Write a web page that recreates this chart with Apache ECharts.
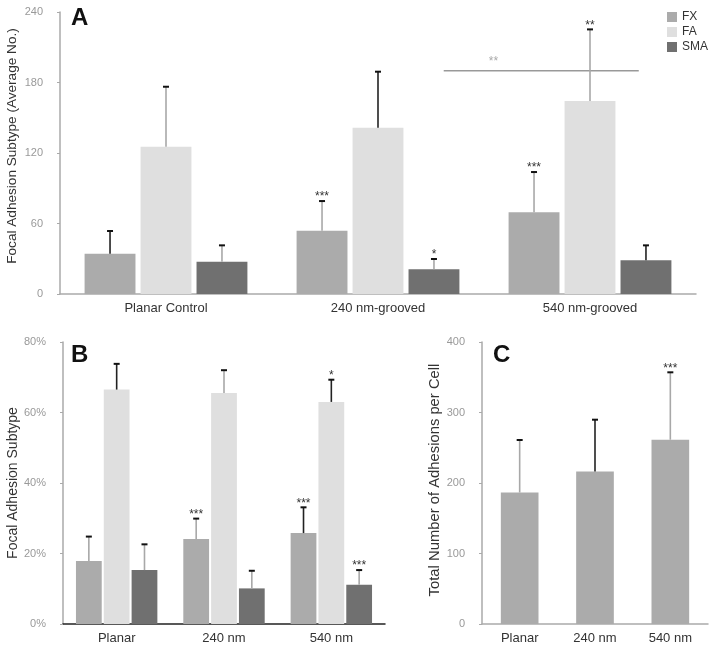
<!DOCTYPE html>
<html><head><meta charset="utf-8">
<script src="https://cdn.jsdelivr.net/npm/echarts@6/dist/echarts.min.js"></script>
<style>html,body{margin:0;padding:0;background:#fff}#c{width:714px;height:646px}</style>
</head><body><div id="c"></div>
<script>
// ---- Data ----
const seriesNames = ['FX', 'FA', 'SMA'];
// Panel A: average number
const catsA = ['Planar Control', '240 nm-grooved', '540 nm-grooved'];
const fxA = [34.3, 53.9, 69.5];
const fxA_sd = [19.3, 25.2, 34.3];
const faA = [125.4, 141.5, 164.3];
const faA_sd = [51.0, 47.7, 60.9];
const smaA = [27.5, 21.0, 28.7];
const smaA_sd = [13.9, 8.8, 12.7];
const fxA_star = ['', '***', '***'];
const faA_star = ['', '', '**'];
const smaA_star = ['', '*', ''];
const bracketA = 190;      // value of comparison line
const bracketA_star = '**';
const ticksA = [0, 60, 120, 180, 240];
const nameA = 'Focal Adhesion Subtype (Average No.)';
// Panel B: percentage
const catsB = ['Planar', '240 nm', '540 nm'];
const fxB = [17.9, 24.1, 25.8];
const fxB_sd = [6.9, 5.8, 7.3];
const faB = [66.5, 65.5, 63.0];
const faB_sd = [7.3, 6.5, 6.3];
const smaB = [15.3, 10.1, 11.1];
const smaB_sd = [7.3, 5.0, 4.2];
const fxB_star = ['', '***', '***'];
const faB_star = ['', '', '*'];
const smaB_star = ['', '', '***'];
const ticksB = [0, 20, 40, 60, 80];
// Panel C: total adhesions
const catsC = ['Planar', '240 nm', '540 nm'];
const totC = [186.5, 216.3, 261.4];
const totC_sd = [74.5, 73.5, 95.6];
const totC_star = ['', '', '***'];
const ticksC = [0, 100, 200, 300, 400];

// ---- Style ----
const COL = {FX: '#ababab', FA: '#dfdfdf', SMA: '#707070'};
const STEM_DARK = '#222', STEM_LIGHT = '#a8a8a8';
const FONT = '"Liberation Sans", Arial, Helvetica, sans-serif';
const stemA = {FX: [STEM_DARK, STEM_LIGHT, STEM_LIGHT], FA: [STEM_LIGHT, STEM_DARK, STEM_LIGHT], SMA: [STEM_LIGHT, STEM_LIGHT, STEM_DARK]};
const stemB = {FX: [STEM_LIGHT, STEM_LIGHT, STEM_DARK], FA: [STEM_DARK, STEM_LIGHT, STEM_DARK], SMA: [STEM_LIGHT, STEM_LIGHT, STEM_LIGHT]};
const stemC = [STEM_LIGHT, STEM_DARK, STEM_LIGHT];

function errSeries(gridIdx, vals, sds, stars, stems, slot, nSlots, barFrac, gapFrac) {
  return {
    type: 'custom', xAxisIndex: gridIdx, yAxisIndex: gridIdx, z: 5, silent: true,
    data: vals.map((v, i) => [i, v, v + sds[i]]),
    renderItem: function (params, api) {
      const i = params.dataIndex;
      const c = api.coord([api.value(0), api.value(1)]);
      const t = api.coord([api.value(0), api.value(2)]);
      const band = api.size([1, 0])[0];
      const w = band * barFrac;
      const x = c[0] + (slot - (nSlots - 1) / 2) * w * (1 + gapFrac);
      const children = [
        {type: 'line', shape: {x1: x, y1: c[1], x2: x, y2: t[1]}, style: {stroke: stems[i], lineWidth: 1.6}},
        {type: 'line', shape: {x1: x - 3, y1: t[1], x2: x + 3, y2: t[1]}, style: {stroke: '#111', lineWidth: 2}}
      ];
      if (stars[i]) children.push({type: 'text', style: {text: stars[i], x: x, y: t[1] + 2, align: 'center', verticalAlign: 'bottom', fontSize: 12, fontFamily: FONT, fill: '#333'}});
      return {type: 'group', children: children};
    }
  };
}
function barSeries(name, gridIdx, vals, barWidth, gap) {
  return {name: name, type: 'bar', xAxisIndex: gridIdx, yAxisIndex: gridIdx, data: vals, barWidth: barWidth, barGap: gap,
    itemStyle: {color: COL[name]}, emphasis: {disabled: true}, animation: false};
}
function xAxis(gridIdx, cats, lineCol, margin) {
  return {type: 'category', gridIndex: gridIdx, data: cats,
    axisLine: {show: true, lineStyle: {color: lineCol, width: 1.5}}, axisTick: {show: false},
    axisLabel: {color: '#333', fontSize: 13, fontFamily: FONT, margin: margin}, splitLine: {show: false}};
}
function yAxis(gridIdx, ticks, lineCol, name, nameGap, nameSize, namePad, fmt) {
  return {type: 'value', gridIndex: gridIdx, min: ticks[0], max: ticks[ticks.length - 1], interval: ticks[1] - ticks[0],
    name: name, nameLocation: 'middle', nameGap: nameGap, nameRotate: 90,
    nameTextStyle: {color: '#333', fontSize: nameSize, fontFamily: FONT, padding: namePad},
    axisLine: {show: true, lineStyle: {color: lineCol, width: 1.5}},
    axisTick: {show: true, length: 3, lineStyle: {color: lineCol}},
    axisLabel: {color: '#999', fontSize: 11, fontFamily: FONT, margin: 17, formatter: fmt},
    splitLine: {show: false}};
}

const chart = echarts.init(document.getElementById('c'), null, {renderer: 'canvas'});
const bwA = 0.24, gA = 0.10, bwB = 0.24, gB = 0.08;
const letterStyle = {fontSize: 24, fontWeight: 'bold', color: '#111', fontFamily: FONT};
const option = {
  animation: false,
  backgroundColor: '#fff',
  textStyle: {fontFamily: FONT},
  grid: [
    {left: 60, right: 18, top: 12, bottom: 352, containLabel: false, outerBoundsMode: 'none'},
    {left: 63, width: 322, top: 342, height: 282, containLabel: false, outerBoundsMode: 'none'},
    {left: 482, width: 226, top: 342, height: 282, containLabel: false, outerBoundsMode: 'none'}
  ],
  legend: {data: seriesNames, orient: 'vertical', left: 662, top: 6, itemWidth: 10, itemHeight: 10, itemGap: 3,
    icon: 'rect', textStyle: {color: '#333', fontSize: 12, fontFamily: FONT}, selectedMode: false},
  title: [
    {text: 'A', left: 71, top: 6, padding: 0, textStyle: letterStyle},
    {text: 'B', left: 71, top: 343, padding: 0, textStyle: letterStyle},
    {text: 'C', left: 493, top: 343, padding: 0, textStyle: letterStyle}
  ],
  graphic: [
    {type: 'text', x: 12.5, y: 146, rotation: Math.PI / 2, silent: true,
     style: {text: nameA, align: 'center', verticalAlign: 'middle', fontSize: 13.6, fontFamily: FONT, fill: '#333'}}
  ],
  xAxis: [xAxis(0, catsA, '#aaa', 8), xAxis(1, catsB, '#222', 8), xAxis(2, catsC, '#aaa', 8)],
  yAxis: [
    yAxis(0, ticksA, '#aaa', '', 34, 13.6, [0, 0, 0, 0], '{value}'),
    yAxis(1, ticksB, '#aaa', 'Focal Adhesion Subtype', 43, 14, [0, 0, 0, 0], '{value}%'),
    yAxis(2, ticksC, '#aaa', 'Total Number of Adhesions per Cell', 39, 14.8, [0, 0, 0, 6], '{value}')
  ],
  series: [
    barSeries('FX', 0, fxA, '24%', '10%'),
    barSeries('FA', 0, faA, '24%', '10%'),
    barSeries('SMA', 0, smaA, '24%', '10%'),
    errSeries(0, fxA, fxA_sd, fxA_star, stemA.FX, 0, 3, bwA, gA),
    errSeries(0, faA, faA_sd, faA_star, stemA.FA, 1, 3, bwA, gA),
    errSeries(0, smaA, smaA_sd, smaA_star, stemA.SMA, 2, 3, bwA, gA),
    {
      type: 'custom', xAxisIndex: 0, yAxisIndex: 0, silent: true, z: 4,
      data: [[1, bracketA]],
      renderItem: function (params, api) {
        const band = api.size([1, 0])[0];
        const p1 = api.coord([1, api.value(1)]);
        const p2 = api.coord([2, api.value(1)]);
        const x1 = p1[0] + 0.31 * band, x2 = p2[0] + 0.23 * band;
        return {type: 'group', children: [
          {type: 'line', shape: {x1: x1, y1: p1[1], x2: x2, y2: p1[1]}, style: {stroke: '#999', lineWidth: 1.5}},
          {type: 'text', style: {text: bracketA_star, x: p1[0] + 0.545 * band, y: p1[1] - 3, align: 'center', verticalAlign: 'bottom', fontSize: 12, fontFamily: FONT, fill: '#aaa'}}
        ]};
      }
    },
    barSeries('FX', 1, fxB, '24%', '8%'),
    barSeries('FA', 1, faB, '24%', '8%'),
    barSeries('SMA', 1, smaB, '24%', '8%'),
    errSeries(1, fxB, fxB_sd, fxB_star, stemB.FX, 0, 3, bwB, gB),
    errSeries(1, faB, faB_sd, faB_star, stemB.FA, 1, 3, bwB, gB),
    errSeries(1, smaB, smaB_sd, smaB_star, stemB.SMA, 2, 3, bwB, gB),
    {type: 'bar', xAxisIndex: 2, yAxisIndex: 2, data: totC, barWidth: '50%', itemStyle: {color: COL.FX}, emphasis: {disabled: true}},
    errSeries(2, totC, totC_sd, totC_star, stemC, 0, 1, 0.5, 0)
  ]
};
chart.setOption(option);
</script>
</body></html>
